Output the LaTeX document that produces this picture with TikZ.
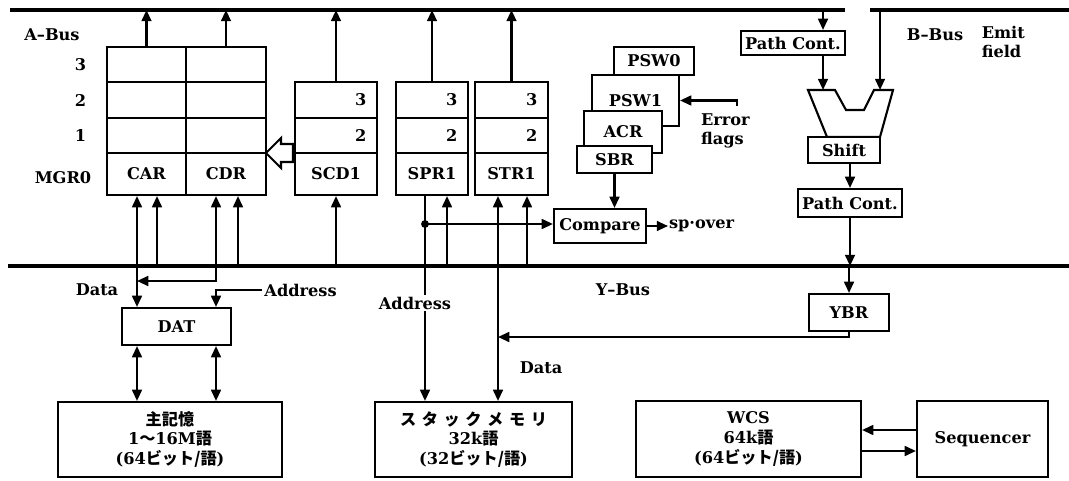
\documentclass[tikz,border=0pt]{standalone}
\usepackage{fontspec}
\setmainfont{DejaVu Serif}
\newfontfamily\cjk{Noto Sans CJK JP}
\usetikzlibrary{arrows.meta,calc}
\newcommand\jp[1]{{\cjk #1}}

\begin{document}
\begin{tikzpicture}[x=0.025cm,y=-0.025cm,line width=1.5pt,
  font=\fontsize{11.5pt}{14pt}\selectfont\bfseries,
  arr/.style={-{Triangle[length=8pt,width=7pt]}},
  darr/.style={{Triangle[length=8pt,width=7pt]}-{Triangle[length=8pt,width=7pt]}},
  bus/.style={line width=3.5pt},
  box/.style n args={4}{draw,fill=white,inner sep=0pt,align=center,
    minimum width={(#3-#1)*0.025cm},minimum height={(#4-#2)*0.025cm},
    at={({(#1+#3)/2},{(#2+#4)/2})}}]
\useasboundingbox (0,0) rectangle (1069,480);

\coordinate (abusL) at (10,10);
\coordinate (abusR) at (845,10);
\coordinate (bbusL) at (870,10);
\coordinate (bbusR) at (1069,10);
\coordinate (ybusL) at (8,266);
\coordinate (ybusR) at (1069,266);
\draw[bus] (abusL) -- (abusR);
\draw[bus] (bbusL) -- (bbusR);
\draw[bus] (ybusL) -- (ybusR);

\node (abus) at (52,35) {A--Bus};
\node (bbus) at (935,35) {B--Bus};
\node[align=left,anchor=west] (emit) at (976,42) {Emit\\field};
\node (ybus) at (623,290) {Y--Bus};

\foreach \n/\ya/\yb in {3/47/82,2/82/118,1/118/153}{
  \node[box={107}{\ya}{186}{\yb}] (car\n) {};
  \node[box={186}{\ya}{266}{\yb}] (cdr\n) {};
  \node[anchor=east] (row\n) at ($(car\n.west)+(-14,0)$) {\n};
}
\node[box={107}{153}{186}{195}] (car) {CAR};
\node[box={186}{153}{266}{195}] (cdr) {CDR};
\node[anchor=east] (mgr) at ($(car.west)+(-9,4)$) {MGR0};
\draw (266,153) -- (281,138) -- (281,144) -- (293,144) -- (293,162)
  -- (281,162) -- (281,168) -- cycle;

\foreach \rg/\xa/\xb/\tx in {scd/295/377/SCD1,spr/396/468/SPR1,str/475/548/STR1}{
  \node[box={\xa}{82}{\xb}{118}] (\rg3) {};
  \node[box={\xa}{118}{\xb}{153}] (\rg2) {};
  \node[box={\xa}{153}{\xb}{195}] (\rg) {\tx};
  \node[anchor=east] (\rg3n) at ($(\rg3.east)+(-6,0)$) {3};
  \node[anchor=east] (\rg2n) at ($(\rg2.east)+(-6,0)$) {2};
}
\foreach \c in {car3,cdr3,scd3,spr3,str3}
  \draw[arr] (\c.north) -- (\c.north |- abusL);

\node[box={614}{47}{694}{75}] (psw0) {PSW0};
\node[box={592}{75}{679}{126}] (psw1) {PSW1};
\node[box={584}{111}{662}{153}] (acr) {ACR};
\node[box={577}{146}{652}{173}] (sbr) {SBR};
\node[box={554}{209}{646}{243}] (cmp) {Compare};
\node[anchor=west,inner sep=0pt] (spo) at (668,226) {sp·over};
\node[align=left,anchor=west,inner sep=0pt] (err) at (700,131) {Error\\flags};
\coordinate (errt) at (737,106);
\draw[arr] (errt) |- (psw1.east);
\draw[arr] (sbr.south) -- (sbr.south |- cmp.north);
\draw[arr] (cmp.east) -- (spo.west);

\node[box={741}{31}{845}{55}] (pc1) {Path Cont.};
\coordinate (shl) at (823,90);
\coordinate (shr) at (880,90);
\draw (808,90) -- (835,90) -- (846,110) -- (864,110) -- (874,90) -- (893,90)
  -- (880,137) -- (827,137) -- cycle;
\node[box={808}{137}{880}{163}] (sft) {Shift};
\node[box={798}{189}{902}{217}] (pc2) {Path Cont.};
\node[box={809}{294}{889}{331}] (ybr) {YBR};
\draw[arr] (823,0 |- abusL) -- (823,0 |- pc1.north);
\draw[arr] (823,0 |- pc1.south) -- (shl);
\draw[arr] (880,0 |- bbusL) -- (shr);
\draw[arr] (850,0 |- sft.south) -- (850,0 |- pc2.north);
\draw[arr] (pc2.south) -- (pc2.south |- ybusL);
\draw[arr] (ybr.north |- ybusL) -- (ybr.north);
\draw[arr] (ybr.south) |- (498,337);

\node[box={122}{308}{231}{345}] (dat) {DAT};
\node[box={58}{402}{282}{477}] (mem) {\jp{主記憶}\\1\jp{〜}16M\jp{語}\\(64\jp{ビット/語})};
\node[box={375}{402}{572}{477}] (stk) {\jp{ス\hspace{4pt}タ\hspace{4pt}ッ\hspace{4pt}ク\hspace{4pt}メ\hspace{4pt}モ\hspace{4pt}リ}\\32k\jp{語}\\(32\jp{ビット/語})};
\node[box={636}{401}{861}{477}] (wcs) {WCS\\64k\jp{語}\\(64\jp{ビット/語})};
\node[box={917}{401}{1048}{477}] (seq) {Sequencer};
\draw[arr] (seq.west |- 0,430) -- (wcs.east |- 0,430);
\draw[arr] (wcs.east |- 0,451) -- (seq.west |- 0,451);

\node (dlab) at (97,290) {Data};
\node[anchor=west,inner sep=1pt] (adr) at (262,290) {Address};
\draw[darr] (137,0 |- car.south) -- (137,0 |- dat.north);
\draw[arr] (157,0 |- ybusL) -- (157,0 |- car.south);
\draw[darr] (216,0 |- cdr.south) |- (137,281);
\draw[arr] (238,0 |- ybusL) -- (238,0 |- cdr.south);
\draw[arr] (adr.west) -| (216,0 |- dat.north);
\draw[darr] (137,0 |- dat.south) -- (137,0 |- mem.north);
\draw[darr] (216,0 |- dat.south) -- (216,0 |- mem.north);
\draw[arr] (scd.south |- ybusL) -- (scd.south);

\coordinate (tap) at (425,224);
\draw[arr] (425,0 |- spr.south) -- (425,0 |- stk.north);
\fill (tap) circle (2.8pt);
\draw[arr] (tap) -- (tap -| cmp.west);
\draw[arr] (447,0 |- ybusL) -- (447,0 |- spr.south);
\draw[darr] (498,0 |- str.south) -- (498,0 |- stk.north);
\draw[arr] (527,0 |- ybusL) -- (527,0 |- str.south);
\node[fill=white,inner sep=1pt] (sadr) at (415,303) {Address};
\node (sdat) at (541,368) {Data};
\end{tikzpicture}
\end{document}
